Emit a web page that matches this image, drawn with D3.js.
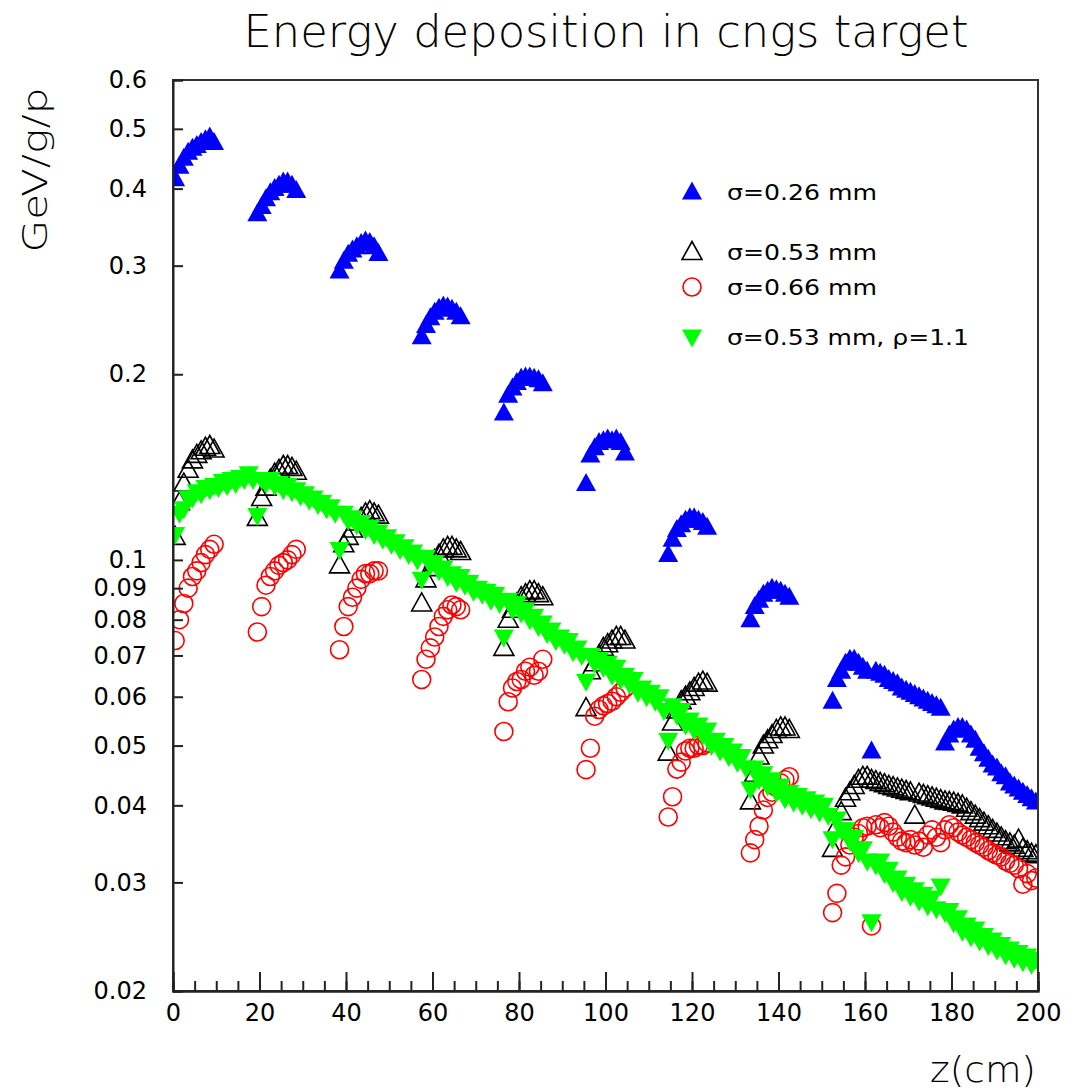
<!DOCTYPE html>
<html>
<head>
<meta charset="utf-8">
<script src="https://cdn.jsdelivr.net/npm/d3@7"></script>
<style>
  body { margin: 0; background: #fff; }
  text { font-family: "DejaVu Sans", sans-serif; fill: #000; }
</style>
</head>
<body>
<svg width="1067" height="1091"></svg>
<script>
var svg = d3.select('svg');

// target segments: first bin centre of each graphite piece (1 cm bins)
const segStarts = [0.5, 19.5, 38.5, 57.5, 76.5, 95.5, 114.5, 133.5, 152.5];

// sigma = 0.26 mm
const blueE = [
  [0.415, 0.435, 0.448, 0.458, 0.465, 0.47, 0.475, 0.48, 0.485, 0.475],
  [0.364, 0.374, 0.385, 0.394, 0.400, 0.405, 0.41, 0.41, 0.405, 0.397],
  [0.294, 0.305, 0.313, 0.318, 0.322, 0.326, 0.329, 0.327, 0.322, 0.314],
  [0.230, 0.240, 0.247, 0.252, 0.256, 0.258, 0.257, 0.255, 0.252, 0.248],
  [0.173, 0.185, 0.19, 0.194, 0.197, 0.198, 0.198, 0.197, 0.196, 0.193],
  [0.133, 0.148, 0.152, 0.155, 0.156, 0.157, 0.156, 0.157, 0.155, 0.149],
  [0.102, 0.108, 0.112, 0.114, 0.116, 0.117, 0.117, 0.116, 0.115, 0.113],
  [0.080, 0.084, 0.086, 0.088, 0.089, 0.09, 0.0895, 0.089, 0.088, 0.087],
  [0.059, 0.064, 0.066, 0.068, 0.069, 0.069, 0.068, 0.067, 0.066, 0.049,
   0.066, 0.0655, 0.065, 0.064, 0.0635, 0.063, 0.062, 0.0615, 0.061, 0.0605,
   0.060, 0.0595, 0.059, 0.0585, 0.058, 0.0575, 0.0505, 0.052, 0.053, 0.0535,
   0.0535, 0.053, 0.052, 0.051, 0.0495, 0.0485, 0.0475, 0.0465, 0.046, 0.045,
   0.0445, 0.0435, 0.043, 0.0425, 0.042, 0.0415, 0.041, 0.0405]
];

// sigma = 0.53 mm
const blackE = [
  [0.109, 0.124, 0.133, 0.14, 0.145, 0.148, 0.15, 0.152, 0.153, 0.151],
  [0.117, 0.126, 0.131, 0.135, 0.138, 0.14, 0.142, 0.142, 0.141, 0.139],
  [0.098, 0.106, 0.109, 0.112, 0.115, 0.117, 0.119, 0.12, 0.119, 0.118],
  [0.085, 0.093, 0.097, 0.1, 0.102, 0.104, 0.105, 0.105, 0.104, 0.103],
  [0.072, 0.08, 0.083, 0.085, 0.087, 0.088, 0.089, 0.089, 0.088, 0.087],
  [0.0575, 0.066, 0.068, 0.07, 0.072, 0.073, 0.074, 0.075, 0.075, 0.074],
  [0.0487, 0.0545, 0.057, 0.059, 0.06, 0.061, 0.062, 0.063, 0.0635, 0.063],
  [0.0406, 0.045, 0.048, 0.05, 0.051, 0.052, 0.053, 0.0535, 0.0535, 0.053],
  [0.034, 0.037, 0.039, 0.041, 0.042, 0.043, 0.044, 0.0445, 0.0445, 0.044,
   0.0438, 0.0435, 0.0433, 0.043, 0.0428, 0.0426, 0.0424, 0.0422, 0.042, 0.0385,
   0.0418, 0.0416, 0.0414, 0.0412, 0.041, 0.0408, 0.0406, 0.0405, 0.0404, 0.0402,
   0.040, 0.0395, 0.039, 0.0385, 0.038, 0.0375, 0.037, 0.0365, 0.036, 0.0355,
   0.035, 0.0347, 0.0344, 0.0352, 0.034, 0.0337, 0.0334, 0.0332]
];

// sigma = 0.66 mm
const redE = [
  [0.074, 0.08, 0.085, 0.09, 0.094, 0.096, 0.099, 0.102, 0.104, 0.106],
  [0.0764, 0.084, 0.091, 0.094, 0.096, 0.098, 0.099, 0.1, 0.102, 0.104],
  [0.0715, 0.078, 0.084, 0.087, 0.09, 0.093, 0.095, 0.095, 0.096, 0.096],
  [0.064, 0.069, 0.072, 0.075, 0.078, 0.081, 0.083, 0.0845, 0.084, 0.083],
  [0.0527, 0.0589, 0.062, 0.0635, 0.064, 0.066, 0.067, 0.065, 0.066, 0.069],
  [0.0457, 0.0495, 0.0558, 0.0572, 0.058, 0.0585, 0.059, 0.06, 0.061, 0.062],
  [0.0383, 0.0413, 0.0458, 0.047, 0.049, 0.0495, 0.0495, 0.05, 0.05, 0.0505],
  [0.0335, 0.0352, 0.037, 0.0393, 0.0412, 0.042, 0.0428, 0.0435, 0.044, 0.0445],
  [0.0268, 0.0288, 0.032, 0.033, 0.0345, 0.0355, 0.036, 0.0368, 0.037, 0.0255,
   0.0372, 0.0368, 0.0375, 0.037, 0.0362, 0.0355, 0.035, 0.0348, 0.0352, 0.0345,
   0.035, 0.0342, 0.0358, 0.0365, 0.0355, 0.0348, 0.0365, 0.0372, 0.0368, 0.0362,
   0.0358, 0.0355, 0.0352, 0.0348, 0.0345, 0.0342, 0.0338, 0.0335, 0.0332, 0.033,
   0.0325, 0.0322, 0.032, 0.0316, 0.0298, 0.031, 0.0302, 0.0305]
];

// sigma = 0.53 mm, rho = 1.1 : one bin every cm from 0.5 to 199.5
const greenStart = 0.5;
const greenE = [
  0.110, 0.119, 0.121, 0.126, 0.126, 0.129, 0.128, 0.131, 0.130, 0.132,
  0.131, 0.134, 0.132, 0.135, 0.133, 0.136, 0.135, 0.138, 0.135, 0.118,
  0.135, 0.133, 0.135, 0.132, 0.133, 0.130, 0.132, 0.129, 0.130, 0.127,
  0.128, 0.125, 0.126, 0.123, 0.124, 0.121, 0.122, 0.119, 0.104, 0.119,
  0.116, 0.117, 0.114, 0.115, 0.112, 0.113, 0.110, 0.111, 0.108, 0.109,
  0.106, 0.107, 0.104, 0.105, 0.102, 0.103, 0.100, 0.093, 0.101, 0.098,
  0.099, 0.096, 0.097, 0.094, 0.095, 0.092, 0.094, 0.091, 0.092, 0.089,
  0.090, 0.088, 0.089, 0.086, 0.088, 0.085, 0.075, 0.086, 0.083, 0.085,
  0.082, 0.083, 0.080, 0.081, 0.078, 0.079, 0.076, 0.077, 0.074, 0.075,
  0.073, 0.074, 0.071, 0.072, 0.070, 0.0636, 0.070, 0.068, 0.069, 0.067,
  0.068, 0.065, 0.067, 0.064, 0.065, 0.063, 0.064, 0.061, 0.062, 0.060,
  0.061, 0.059, 0.060, 0.057, 0.051, 0.058, 0.056, 0.057, 0.054, 0.055,
  0.053, 0.054, 0.052, 0.053, 0.050, 0.051, 0.049, 0.050, 0.048, 0.049,
  0.047, 0.048, 0.046, 0.0425, 0.046, 0.044, 0.045, 0.043, 0.044, 0.042,
  0.043, 0.041, 0.042, 0.0405, 0.0415, 0.040, 0.041, 0.0395, 0.0405, 0.039,
  0.040, 0.0385, 0.0353, 0.038, 0.0365, 0.0365, 0.035, 0.0355, 0.0335, 0.034,
  0.0325, 0.0259, 0.032, 0.0325, 0.031, 0.0315, 0.030, 0.0305, 0.029, 0.0298,
  0.0285, 0.0292, 0.028, 0.0287, 0.0275, 0.0283, 0.0272, 0.0296, 0.0268, 0.027,
  0.0258, 0.0263, 0.025, 0.0256, 0.0245, 0.0252, 0.0241, 0.0246, 0.0237, 0.0242,
  0.0233, 0.0238, 0.0229, 0.0234, 0.0226, 0.0231, 0.0223, 0.0228, 0.0221, 0.0225
];

const xTicks = [0, 20, 40, 60, 80, 100, 120, 140, 160, 180, 200];
const xMinorTicks = d3.range(0, 201, 5);
const yTicks = [0.02, 0.03, 0.04, 0.05, 0.06, 0.07, 0.08, 0.09, 0.1, 0.2, 0.3, 0.4, 0.5, 0.6];
const yTickLabels = ["0.02", "0.03", "0.04", "0.05", "0.06", "0.07", "0.08", "0.09", "0.1", "0.2", "0.3", "0.4", "0.5", "0.6"];

const legendItems = [
  {label: "σ=0.26 mm", marker: "up", fill: "#0000ff", stroke: "none"},
  {label: "σ=0.53 mm", marker: "up", fill: "none", stroke: "#000"},
  {label: "σ=0.66 mm", marker: "circle", fill: "none", stroke: "#ff0000"},
  {label: "σ=0.53 mm, ρ=1.1", marker: "down", fill: "#00ff00", stroke: "none"}
];

// flatten the segmented series into points
function toPoints(segs) {
  let pts = [];
  segs.forEach((vals, k) => {
    vals.forEach((v, i) => pts.push({z: segStarts[k] + i, e: v}));
  });
  return pts;
}
const bluePts = toPoints(blueE);
const blackPts = toPoints(blackE);
const redPts = toPoints(redE);
const greenPts = greenE.map((v, i) => ({z: greenStart + i, e: v}));

// plot area
const margin = {top: 80, left: 173, right: 1038, bottom: 991};

const xScale = d3.scaleLinear().domain([0, 200]).range([margin.left, margin.right]);
const yScale = d3.scaleLog().domain([0.02, 0.6]).range([margin.bottom, margin.top]);

const triUp = "M0,-10.5L10,7.5L-10,7.5Z";
const triDown = "M0,10.5L10,-7.5L-10,-7.5Z";

svg.append("defs").append("clipPath").attr("id", "plotclip")
  .append("rect")
  .attr("x", margin.left).attr("y", margin.top)
  .attr("width", margin.right - margin.left)
  .attr("height", margin.bottom - margin.top);

const plot = svg.append("g").attr("clip-path", "url(#plotclip)");

// blue filled triangles
plot.append("g").selectAll("path").data(bluePts).enter().append("path")
  .attr("d", triUp)
  .attr("transform", d => `translate(${xScale(d.z)},${yScale(d.e)})`)
  .style("fill", "#0000ff");

// black open triangles
plot.append("g").selectAll("path").data(blackPts).enter().append("path")
  .attr("d", triUp)
  .attr("transform", d => `translate(${xScale(d.z)},${yScale(d.e)})`)
  .style("fill", "none")
  .style("stroke", "#000")
  .style("stroke-width", 1.6);

// red open circles
plot.append("g").selectAll("circle").data(redPts).enter().append("circle")
  .attr("cx", d => xScale(d.z))
  .attr("cy", d => yScale(d.e))
  .attr("r", 9)
  .style("fill", "none")
  .style("stroke", "#ff0000")
  .style("stroke-width", 1.6);

// green filled triangles down
plot.append("g").selectAll("path").data(greenPts).enter().append("path")
  .attr("d", triDown)
  .attr("transform", d => `translate(${xScale(d.z)},${yScale(d.e)})`)
  .style("fill", "#00ff00");

// frame
svg.append("rect")
  .attr("x", margin.left).attr("y", margin.top)
  .attr("width", margin.right - margin.left)
  .attr("height", margin.bottom - margin.top)
  .style("fill", "none")
  .style("stroke", "#333")
  .style("stroke-width", 2);

// axes, ticks inside the frame
const yAxis = svg.append("g")
  .attr("transform", `translate(${margin.left},0)`)
  .call(d3.axisLeft(yScale)
    .tickValues(yTicks)
    .tickSize(-10)
    .tickPadding(26)
    .tickFormat((d, i) => yTickLabels[i]));

const xMinor = svg.append("g")
  .attr("transform", `translate(0,${margin.bottom})`)
  .call(d3.axisBottom(xScale).tickValues(xMinorTicks).tickSize(-10).tickFormat(""));

const xAxis = svg.append("g")
  .attr("transform", `translate(0,${margin.bottom})`)
  .call(d3.axisBottom(xScale)
    .tickValues(xTicks)
    .tickSize(-19)
    .tickPadding(13)
    .tickFormat(d3.format("d")));

[yAxis, xMinor, xAxis].forEach(a => {
  a.select(".domain").style("stroke", "#222").style("stroke-width", 2);
  a.selectAll(".tick line").style("stroke", "#222").style("stroke-width", 2);
  a.selectAll("text").style("font-size", "24px").style("font-family", "DejaVu Sans, sans-serif");
});

// title
svg.append("text")
  .attr("x", 606)
  .attr("y", 47)
  .attr("text-anchor", "middle")
  .attr("textLength", 725)
  .attr("lengthAdjust", "spacingAndGlyphs")
  .style("font-size", "44px")
  .style("font-weight", 200)
  .text("Energy deposition in cngs target");

// axis titles
svg.append("text")
  .attr("transform", "translate(47,170) rotate(-90)")
  .attr("text-anchor", "middle")
  .attr("textLength", 165)
  .attr("lengthAdjust", "spacingAndGlyphs")
  .style("font-size", "34px")
  .style("font-weight", 200)
  .text("GeV/g/p");

svg.append("text")
  .attr("x", 1036)
  .attr("y", 1082)
  .attr("text-anchor", "end")
  .attr("textLength", 106)
  .attr("lengthAdjust", "spacingAndGlyphs")
  .style("font-size", "36px")
  .style("font-weight", 200)
  .text("z(cm)");

// legend
const legendY = [192, 252, 287, 337];
const legendWidths = [150, 150, 150, 242];
const legend = svg.append("g");
legendItems.forEach((it, i) => {
  const g = legend.append("g").attr("transform", `translate(692,${legendY[i]})`);
  if (it.marker == "circle") {
    g.append("circle").attr("r", 9)
      .style("fill", it.fill).style("stroke", it.stroke).style("stroke-width", 1.6);
  } else {
    g.append("path").attr("d", it.marker == "up" ? triUp : triDown)
      .style("fill", it.fill).style("stroke", it.stroke).style("stroke-width", 1.6);
  }
  g.append("text")
    .attr("x", 35)
    .attr("dy", "0.36em")
    .attr("textLength", legendWidths[i])
    .attr("lengthAdjust", "spacingAndGlyphs")
    .style("font-size", "22px")
    .text(it.label);
});
</script>
</body>
</html>
